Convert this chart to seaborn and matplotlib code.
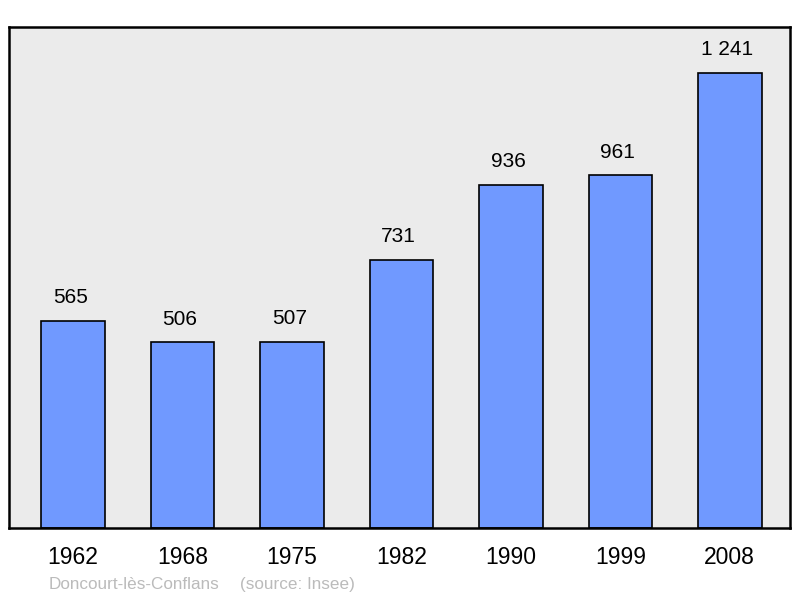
import matplotlib
matplotlib.use("Agg")
import matplotlib.pyplot as plt
import seaborn as sns
import pandas as pd

years = ["1962", "1968", "1975", "1982", "1990", "1999", "2008"]
population = [565, 506, 507, 731, 936, 961, 1241]
value_labels = ["565", "506", "507", "731", "936", "961", "1 241"]
town = "Doncourt-lès-Conflans"
source = "(source: Insee)"

sns.set_style("white")
plt.rcParams['font.family'] = ['Liberation Sans', 'DejaVu Sans']

df = pd.DataFrame({'year': years, 'pop': population})

fig = plt.figure(figsize=(8, 5.98), dpi=100)
ax = fig.add_axes([0.01125, 0.117, 0.97625, 0.838])
ax.set_facecolor('#ebebeb')

sns.barplot(data=df, x='year', y='pop', ax=ax, color='#7099ff', saturation=1,
            width=0.58, edgecolor='black', linewidth=1.2)

# value labels above each bar
for i, (v, lab) in enumerate(zip(population, value_labels)):
    ax.annotate(lab, (i, v), xytext=(-2, 10), textcoords='offset points',
                ha='center', va='bottom', fontsize=15, color='black')

ax.set_xlim(-0.585, 6.55)
ax.set_ylim(0, 1366)
ax.set_yticks([])
ax.set_xlabel('')
ax.set_ylabel('')
ax.tick_params(axis='x', length=0, pad=13, labelsize=16.5, labelcolor='black')
for s in ax.spines.values():
    s.set_visible(True)
    s.set_color('black')
    s.set_linewidth(1.8)

fig.text(49 / 800, 1 - 589 / 598, town, fontsize=12.3, color='#bbbbbb', ha='left', va='baseline')
fig.text(240 / 800, 1 - 589 / 598, source, fontsize=12.3, color='#bbbbbb', ha='left', va='baseline')

fig.savefig('out.png', dpi=100)
